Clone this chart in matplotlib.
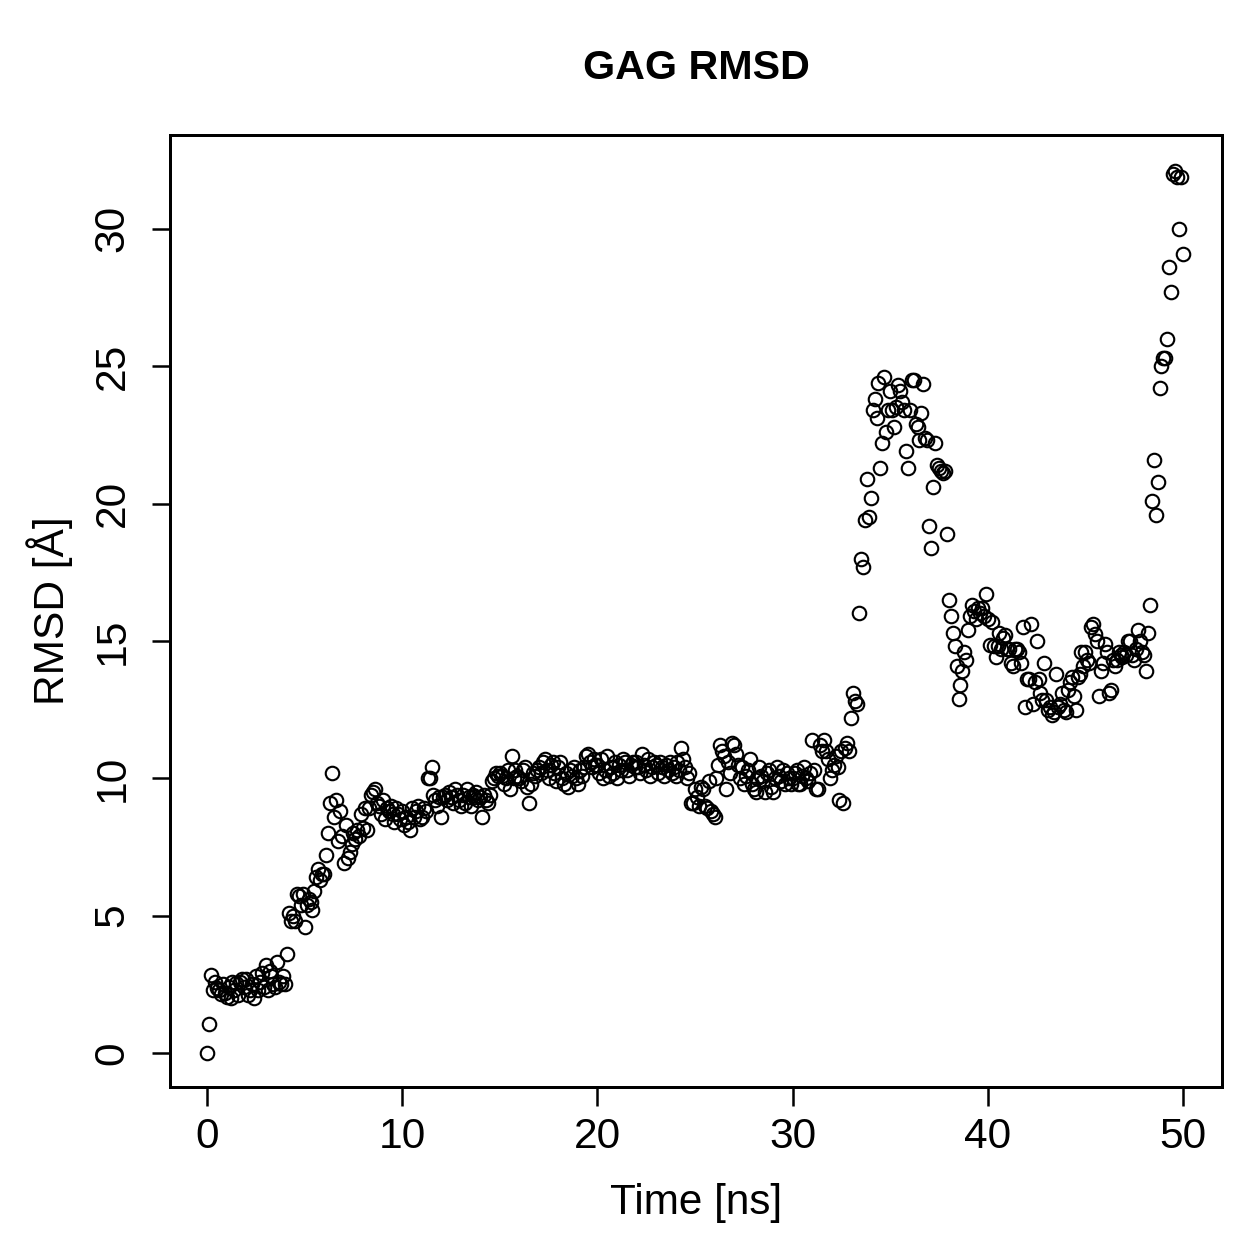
import matplotlib
matplotlib.use("Agg")
import matplotlib.pyplot as plt
import numpy as np

plt.rcParams["font.family"] = ["Liberation Sans", "DejaVu Sans"]

# RMSD values (Angstrom), one frame every 0.1 ns
rmsd_rows = [
    [0.0, 1.05, 2.85, 2.3, 2.6, 2.35, 2.3, 2.15, 2.5, 2.2],
    [2.05, 2.4, 2.0, 2.6, 2.3, 2.55, 2.1, 2.6, 2.7, 2.4],
    [2.7, 2.1, 2.3, 2.5, 2.0, 2.8, 2.3, 2.6, 2.9, 2.4],
    [3.2, 2.3, 3.0, 2.8, 2.5, 2.4, 3.3, 2.6, 2.5, 2.8],
    [2.5, 3.6, 5.1, 4.8, 5.0, 4.8, 5.8, 5.7, 5.4, 5.8],
    [4.6, 5.4, 5.6, 5.5, 5.2, 5.9, 6.4, 6.7, 6.3, 6.5],
    [6.5, 7.2, 8.0, 9.1, 10.2, 8.6, 9.2, 7.7, 8.8, 7.9],
    [6.9, 8.3, 7.1, 7.3, 7.6, 8.0, 7.8, 8.1, 7.9, 8.7],
    [8.2, 8.9, 8.1, 8.9, 9.4, 9.5, 9.6, 9.1, 9.0, 8.7],
    [9.2, 8.5, 8.9, 8.8, 9.0, 8.7, 8.4, 8.9, 8.7, 8.5],
    [8.8, 8.3, 8.6, 8.4, 8.1, 8.9, 8.6, 8.8, 9.0, 8.5],
    [8.6, 8.9, 8.8, 10.0, 10.0, 10.4, 9.4, 9.2, 9.0, 9.3],
    [8.6, 9.3, 9.4, 9.2, 9.5, 9.3, 9.1, 9.6, 9.4, 9.2],
    [9.0, 9.4, 9.1, 9.6, 9.3, 9.0, 9.4, 9.3, 9.5, 9.2],
    [9.3, 8.6, 9.4, 9.2, 9.1, 9.4, 9.9, 10.0, 10.2, 10.1],
    [10.2, 10.1, 9.8, 10.0, 10.3, 9.6, 10.8, 10.0, 10.3, 10.1],
    [10.0, 9.9, 10.3, 10.4, 9.7, 9.1, 9.8, 10.2, 10.1, 10.3],
    [10.4, 10.2, 10.6, 10.7, 10.3, 10.0, 10.5, 10.6, 10.2, 9.9],
    [10.4, 10.6, 10.0, 9.8, 10.2, 9.7, 10.3, 10.1, 10.4, 10.0],
    [9.8, 10.3, 10.1, 10.4, 10.8, 10.9, 10.6, 10.4, 10.7, 10.5],
    [10.5, 10.2, 10.7, 10.0, 10.3, 10.8, 10.1, 10.4, 10.2, 10.6],
    [10.0, 10.5, 10.3, 10.7, 10.6, 10.3, 10.1, 10.5, 10.6, 10.4],
    [10.6, 10.4, 10.2, 10.9, 10.5, 10.3, 10.7, 10.1, 10.4, 10.6],
    [10.5, 10.2, 10.6, 10.4, 10.1, 10.5, 10.3, 10.6, 10.2, 10.4],
    [10.1, 10.6, 10.3, 11.1, 10.7, 10.4, 10.0, 10.2, 9.1, 9.1],
    [9.6, 9.3, 9.0, 9.7, 9.6, 9.0, 8.9, 9.9, 8.8, 8.7],
    [8.6, 10.0, 10.5, 11.2, 11.0, 10.8, 9.6, 10.6, 10.2, 11.3],
    [11.2, 10.9, 10.5, 10.0, 10.4, 9.8, 10.1, 10.3, 10.7, 9.8],
    [9.6, 9.5, 10.0, 10.4, 10.1, 9.9, 9.5, 10.2, 10.3, 9.7],
    [9.5, 10.0, 10.4, 10.1, 9.9, 10.3, 9.8, 10.2, 10.0, 9.8],
    [10.0, 10.2, 10.3, 9.8, 9.8, 10.1, 10.4, 10.0, 9.9, 10.2],
    [11.4, 10.3, 9.6, 9.6, 11.2, 11.0, 11.4, 11.0, 10.7, 10.0],
    [10.3, 10.5, 10.8, 10.4, 9.2, 11.0, 9.1, 11.1, 11.3, 11.0],
    [12.2, 13.1, 12.8, 12.7, 16.0, 18.0, 17.7, 19.4, 20.9, 19.5],
    [20.2, 23.4, 23.8, 23.1, 24.4, 21.3, 22.2, 24.6, 22.6, 23.4],
    [24.1, 23.4, 22.8, 23.5, 24.3, 24.1, 23.7, 23.4, 21.9, 21.3],
    [23.4, 24.5, 24.5, 22.9, 22.8, 22.3, 23.3, 24.35, 22.4, 22.3],
    [19.2, 18.4, 20.6, 22.2, 21.4, 21.3, 21.2, 21.1, 21.2, 18.9],
    [16.5, 15.9, 15.3, 14.8, 14.1, 12.9, 13.4, 13.9, 14.6, 14.3],
    [15.4, 15.9, 16.3, 16.1, 15.8, 16.2, 16.0, 16.2, 15.9, 16.7],
    [15.8, 14.85, 15.7, 14.8, 14.4, 14.8, 15.3, 14.7, 15.1, 15.2],
    [14.7, 14.7, 14.2, 14.1, 14.7, 14.7, 14.6, 14.2, 15.5, 12.6],
    [13.6, 13.6, 15.6, 12.7, 13.5, 15.0, 13.6, 13.1, 12.85, 14.2],
    [12.85, 12.5, 12.6, 12.3, 12.4, 13.8, 12.6, 12.7, 13.1, 12.5],
    [12.4, 13.2, 13.5, 13.7, 13.0, 12.5, 13.7, 13.8, 14.6, 14.1],
    [14.6, 14.3, 14.2, 15.5, 15.6, 15.25, 15.0, 13.0, 13.9, 14.2],
    [14.9, 14.6, 13.1, 13.2, 14.3, 14.1, 14.3, 14.6, 14.5, 14.4],
    [14.6, 14.5, 15.0, 15.0, 14.5, 14.3, 14.7, 15.4, 15.0, 14.6],
    [14.5, 13.9, 15.3, 16.3, 20.1, 21.6, 19.6, 20.8, 24.2, 25.0],
    [25.3, 25.3, 26.0, 28.6, 27.7, 32.0, 32.1, 31.9, 30.0, 31.9],
    [29.1],
]
rmsd = np.concatenate([np.array(r) for r in rmsd_rows])
time_ns = np.arange(len(rmsd)) * 0.1

x_ticks = [0, 10, 20, 30, 40, 50]
y_ticks = [0, 5, 10, 15, 20, 25, 30]

W = H = 1259
fig = plt.figure(figsize=(W / 180, H / 180), dpi=180)
ax = fig.add_axes([170 / W, 1 - 1087 / H, (1222 - 170) / W, (1087 - 135) / H])

ax.plot(time_ns, rmsd, linestyle="none", marker="o", markersize=5.4,
        markerfacecolor="none", markeredgecolor="black", markeredgewidth=0.85)

ax.set_xlim(-1.9, 52.0)
ax.set_ylim(-1.24, 33.42)
ax.set_xticks(x_ticks)
ax.set_yticks(y_ticks)
ax.set_xticklabels([str(v) for v in x_ticks], fontsize=17)
ax.set_yticklabels([str(v) for v in y_ticks], fontsize=17, rotation=90, va="center")
ax.tick_params(direction="out", length=7.4, width=1.0, colors="black")
ax.tick_params(axis="x", pad=4.8)
ax.tick_params(axis="y", pad=7.5)
for s in ax.spines.values():
    s.set_linewidth(1.2)

fig.text(696 / W, 1 - 68 / H, "GAG RMSD", ha="center", va="center",
         fontsize=16.5, fontweight="bold")
fig.text(696 / W, 1 - 1203 / H, "Time [ns]", ha="center", va="center", fontsize=16.9)
fig.text(50 / W, 1 - 611 / H, "RMSD [Å]", ha="center", va="center",
         fontsize=17, rotation=90)

fig.savefig("out.png", dpi=180)
